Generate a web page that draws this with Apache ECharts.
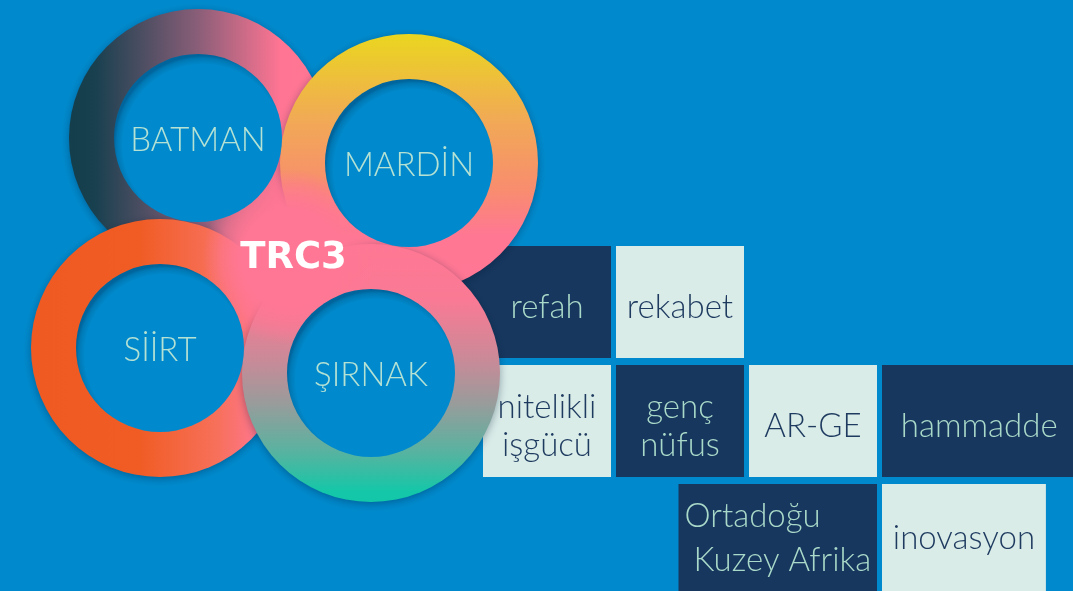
<!DOCTYPE html>
<html>
<head>
<meta charset="utf-8">
<script src="https://cdn.jsdelivr.net/npm/echarts@6/dist/echarts.min.js"></script>
<style>
html,body{margin:0;padding:0;background:#008ACD;overflow:hidden;}
#c{width:1073px;height:591px;}
</style>
</head>
<body>
<div id="c"></div>
<script>
// ---------------- data ----------------
const regionName = 'TRC3';
const cityNames = ['BATMAN', 'MARDİN', 'SİİRT', 'ŞIRNAK'];
const cityCol = [0, 1, 0, 1];     // position in the 2x2 ring lattice
const cityRow = [0, 0, 1, 1];

const tileLabels = ['refah', 'rekabet', 'nitelikli\nişgücü', 'genç\nnüfus', 'AR-GE', 'hammadde', 'Ortadoğu\n Kuzey Afrika', 'inovasyon'];
const tileRow  = [0, 0, 1, 1, 1, 1, 2, 2];
const tileCol  = [-0.25, 1, 0, 1, 2, 3, 1.47, 3];
const tileSpan = [1.25, 1, 1, 1, 1, 1.5, 1.53, 1.27];
const tileDark = [1, 0, 0, 1, 0, 1, 1, 0];

// ---------------- layout & style ----------------
const W = 1073, H = 591;
const BG = '#008ACD';
const PINK = '#FF7794';
const NAVY = '#17375E';
const MINT = '#D9ECE8';
const TXT_ON_DARK = '#A9D9C9';
const TXT_ON_LIGHT = '#1E3A5F';
const CITY_TXT = '#B6E2D4';
const FONT = 'Lato, "Open Sans", sans-serif';

const lat = { ox: 198, oy: 138, ux: 211, uy: 25, vx: -38, vy: 210 };
const R_OUT = 129, R_IN = 84;
const G = { x0: 483, y0: 246, colW: 133, rowH: 119, gap: 5, tileH: 112 };

function LG(x, y, x2, y2, stops) {
  return new echarts.graphic.LinearGradient(x, y, x2, y2,
    stops.map(s => ({ offset: s[0], color: s[1] })));
}
const ringFill = [
  LG(0, 0, 1, 0, [[0, '#143E4C'], [0.1, '#18404F'], [0.5, '#8A5E78'], [0.82, '#FF7593'], [1, '#FF7794']]),
  LG(0, 0, 0, 1, [[0, '#EAD61F'], [0.33, '#F1AA55'], [0.6, '#F88D6E'], [0.78, '#FF7793'], [1, '#FF7794']]),
  LG(0, 0, 1, 0, [[0, '#EF5A22'], [0.42, '#F05C24'], [0.72, '#F7705A'], [0.9, '#FF7794'], [1, '#FF7794']]),
  LG(0, 0, 0, 1, [[0, '#FF7794'], [0.22, '#F97A94'], [0.45, '#C98A98'], [0.62, '#989C9B'], [0.8, '#5AB2A0'], [0.96, '#14C7A8'], [1, '#12C7A8']])
];

function cityCenter(i) {
  return [lat.ox + cityCol[i] * lat.ux + cityRow[i] * lat.vx,
          lat.oy + cityCol[i] * lat.uy + cityRow[i] * lat.vy];
}
function hubCenter() {
  const cs = cityNames.map((_, i) => cityCenter(i));
  return [cs.reduce((s, c) => s + c[0], 0) / cs.length, cs.reduce((s, c) => s + c[1], 0) / cs.length];
}
function circleIntersect(c1, c2, r, ref) {
  const dx = c2[0] - c1[0], dy = c2[1] - c1[1];
  const d = Math.hypot(dx, dy);
  const a = d / 2;
  const h = Math.sqrt(Math.max(r * r - a * a, 0));
  const mx = c1[0] + dx / 2, my = c1[1] + dy / 2;
  const px = -dy / d, py = dx / d;
  const p1 = [mx + h * px, my + h * py], p2 = [mx - h * px, my - h * py];
  return Math.hypot(p1[0] - ref[0], p1[1] - ref[1]) < Math.hypot(p2[0] - ref[0], p2[1] - ref[1]) ? p1 : p2;
}
function arcPts(c, p1, p2, r, n) {
  const a1 = Math.atan2(p1[1] - c[1], p1[0] - c[0]);
  const a2 = Math.atan2(p2[1] - c[1], p2[0] - c[0]);
  let d = a2 - a1;
  while (d > Math.PI) d -= 2 * Math.PI;
  while (d < -Math.PI) d += 2 * Math.PI;
  const out = [];
  for (let k = 0; k <= n; k++) {
    const a = a1 + d * k / n;
    out.push([c[0] + r * Math.cos(a), c[1] + r * Math.sin(a)]);
  }
  return out;
}

const chart = echarts.init(document.getElementById('c'), null, { renderer: 'canvas', width: W, height: H });

function renderTile(params, api) {
  const i = api.value(0);
  const x0 = G.x0 + tileCol[i] * G.colW;
  const x1 = G.x0 + (tileCol[i] + tileSpan[i]) * G.colW - G.gap;
  const y0 = G.y0 + tileRow[i] * G.rowH;
  const y1 = y0 + G.tileH;
  const p0 = api.coord([x0, y0]);
  const p1 = api.coord([x1, y1]);
  const tx0 = api.coord([Math.max(x0, G.x0), y0])[0];
  const ty = api.coord([0, (y0 + Math.min(y1, H - 8)) / 2 + 5])[1];
  const dark = tileDark[i] === 1;
  const label = tileLabels[i];
  const lines = label.split('\n');
  const leftAlign = lines.length > 1 && tileSpan[i] > 1.2;
  return {
    type: 'group',
    children: [
      { type: 'rect', shape: { x: p0[0], y: p0[1], width: p1[0] - p0[0], height: p1[1] - p0[1] },
        style: { fill: dark ? NAVY : MINT } },
      { type: 'text',
        style: {
          text: label,
          x: leftAlign ? tx0 + 6 : (tx0 + p1[0]) / 2,
          y: ty,
          align: leftAlign ? 'left' : 'center',
          verticalAlign: 'middle',
          fill: dark ? TXT_ON_DARK : TXT_ON_LIGHT,
          fontSize: 33, fontFamily: FONT, fontWeight: 300,
          lineHeight: leftAlign ? 44 : 38
        } }
    ]
  };
}

function renderRing(params, api) {
  const i = api.value(0);
  const c = cityCenter(i);
  const p = api.coord(c);
  const r = api.size([R_OUT, 0])[0];
  return {
    type: 'circle',
    shape: { cx: p[0], cy: p[1], r: r },
    style: { fill: ringFill[i], shadowBlur: 9, shadowColor: 'rgba(0,20,50,0.35)', shadowOffsetY: 2 }
  };
}

function renderHub(params, api) {
  const cs = cityNames.map((_, i) => cityCenter(i));
  const ref = hubCenter();
  const rp = R_OUT - 3;
  const order = [0, 1, 3, 2]; // around the hub
  const ints = [];
  for (let k = 0; k < 4; k++) {
    ints.push(circleIntersect(cs[order[k]], cs[order[(k + 1) % 4]], rp, ref));
  }
  let pts = [];
  for (let k = 0; k < 4; k++) {
    const ci = order[(k + 1) % 4];
    pts = pts.concat(arcPts(cs[ci], ints[k], ints[(k + 1) % 4], rp, 40));
  }
  const poly = pts.map(q => api.coord(q));
  const gc = api.coord([ref[0] + 6, ref[1] + 2]);
  const gr = api.size([88, 0])[0];
  const tp = api.coord([ref[0] + 9, ref[1] + 3]);
  return {
    type: 'group',
    children: [
      { type: 'polygon', shape: { points: poly }, style: { fill: PINK } },
      { type: 'circle', shape: { cx: gc[0], cy: gc[1], r: gr },
        style: { fill: { type: 'radial', x: 0.5, y: 0.5, r: 0.5,
          colorStops: [{ offset: 0, color: PINK }, { offset: 0.55, color: PINK },
                       { offset: 0.8, color: 'rgba(255,119,148,0.55)' }, { offset: 1, color: 'rgba(255,119,148,0)' }] } } },
      { type: 'text', style: { text: regionName, x: tp[0], y: tp[1], align: 'center', verticalAlign: 'middle',
          fill: '#FFFFFF', fontSize: 37, fontWeight: 'bold', fontFamily: '"DejaVu Sans", Lato, sans-serif' } }
    ]
  };
}

function renderInner(params, api) {
  const i = api.value(0);
  const c = cityCenter(i);
  const p = api.coord(c);
  const r = api.size([R_IN, 0])[0];
  return {
    type: 'group',
    children: [
      { type: 'circle', shape: { cx: p[0], cy: p[1], r: r },
        style: { fill: { type: 'radial', x: 0.53, y: 0.54, r: 0.53,
          colorStops: [{ offset: 0, color: BG }, { offset: 0.9, color: BG }, { offset: 0.97, color: '#0078B4' }, { offset: 1, color: '#00659C' }] } } },
      { type: 'text', style: { text: cityNames[i], x: p[0], y: p[1] + 2, align: 'center', verticalAlign: 'middle',
          fill: CITY_TXT, fontSize: 33, fontFamily: FONT, fontWeight: 300 } }
    ]
  };
}

chart.setOption({
  backgroundColor: BG,
  animation: false,
  grid: { left: 0, right: 0, top: 0, bottom: 0 },
  xAxis: { type: 'value', min: 0, max: W, show: false },
  yAxis: { type: 'value', min: 0, max: H, inverse: true, show: false },
  series: [
    { type: 'custom', name: 'tiles', z: 1, clip: false, silent: true,
      data: tileLabels.map((_, i) => [i, 0]), renderItem: renderTile },
    { type: 'custom', name: 'rings', z: 2, clip: false, silent: true,
      data: cityNames.map((_, i) => [i, 0]), renderItem: renderRing },
    { type: 'custom', name: 'hub', z: 3, clip: false, silent: true,
      data: [[0, 0]], renderItem: renderHub },
    { type: 'custom', name: 'cities', z: 4, clip: false, silent: true,
      data: cityNames.map((_, i) => [i, 0]), renderItem: renderInner }
  ]
});
</script>
</body>
</html>
